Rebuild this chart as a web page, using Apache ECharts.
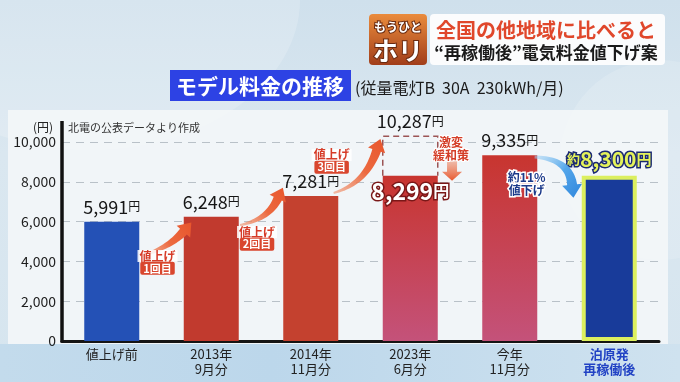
<!DOCTYPE html>
<html><head><meta charset="utf-8">
<script src="https://cdn.jsdelivr.net/npm/echarts@6/dist/echarts.min.js"></script>
<style>
html,body{margin:0;padding:0;width:680px;height:382px;overflow:hidden;}
#bg{position:absolute;left:0;top:0;width:680px;height:382px;background:linear-gradient(180deg,#cfe0ec 0%,#dae7f0 40%,#d6e5ef 100%);}
#c1{position:absolute;left:-120px;top:-150px;width:420px;height:300px;border-radius:50%;background:rgba(255,255,255,0.18);}
#c2{position:absolute;left:560px;top:60px;width:200px;height:200px;border-radius:50%;background:rgba(255,255,255,0.15);}
#panel{position:absolute;left:8px;top:110px;width:660px;height:234px;background:rgba(243,246,248,0.92);}
#band{position:absolute;left:0;top:344px;width:680px;height:38px;background:linear-gradient(90deg,#c3dbec 0%,#bcd7eb 40%,#cfe2ef 100%);}
#chart{position:absolute;left:0;top:0;width:680px;height:382px;}
</style></head>
<body>
<div id="bg"><div id="c1"></div><div id="c2"></div><div id="panel"></div><div id="band"></div></div>
<div id="chart"></div>
<script>
// ---- data ----
const categories = ['値上げ前', '2013年\n9月分', '2014年\n11月分', '2023年\n6月分', '今年\n11月分', '泊原発\n再稼働後'];
const fees = [5991, 6248, 7281, 8299, 9335, 8300];
const feeBeforeRelief = [null, null, null, 10287, null, null];
const yMin = 0, yMax = 10000, yStep = 2000;

const FONT = '"Noto Sans CJK JP", "Noto Sans", sans-serif';
const BAR_W = 55;
const fmt = v => v.toLocaleString('en-US');

const redGrad = {type:'linear',x:0,y:0,x2:0,y2:1,colorStops:[{offset:0,color:'#c8352f'},{offset:1,color:'#c4527a'}]};
const barColors = ['#2451b6', '#c13a2e', '#c4412f', redGrad, redGrad, '#183b9a'];

const mainData = fees.map((v, i) => {
  const item = {value: v, itemStyle: {color: barColors[i]}};
  if (i === 3) {
    item.label = {show:true, position:'insideTop', distance:4,
      formatter: '{n|' + fmt(v) + '}{u|円}',
      rich: {
        n:{fontSize:23,fontWeight:'bold',color:'#fff',textBorderColor:'#7a1818',textBorderWidth:3,fontFamily:FONT},
        u:{fontSize:16,fontWeight:'bold',color:'#fff',textBorderColor:'#7a1818',textBorderWidth:3,fontFamily:FONT}
      }};
  } else if (i === 5) {
    item.itemStyle.borderColor = '#dcef5e';
    item.itemStyle.borderWidth = 4;
    item.label = {show:true, position:'top', distance:6,
      formatter: '{k|約}{n|' + fmt(v) + '}{u|円}',
      rich: {
        k:{fontSize:13,fontWeight:'bold',color:'#e4f25a',textBorderColor:'#1b2a72',textBorderWidth:3,fontFamily:FONT},
        n:{fontSize:21,fontWeight:'bold',color:'#e4f25a',textBorderColor:'#1b2a72',textBorderWidth:3,fontFamily:FONT},
        u:{fontSize:15,fontWeight:'bold',color:'#e4f25a',textBorderColor:'#1b2a72',textBorderWidth:3,fontFamily:FONT}
      }};
  } else {
    item.label = {show:true, position:'top', distance:6,
      formatter: '{n|' + fmt(v) + '}{u|円}',
      rich: {n:{fontSize:18,color:'#161616',fontFamily:FONT}, u:{fontSize:12,color:'#161616',fontFamily:FONT}}};
  }
  return item;
});

const reliefData = feeBeforeRelief.map((v, i) => v == null ? null : {
  value: v - fees[i],
  label: {show:true, position:'top', distance:6,
    formatter: '{n|' + fmt(v) + '}{u|円}',
    rich: {n:{fontSize:18,color:'#161616',fontFamily:FONT}, u:{fontSize:12,color:'#161616',fontFamily:FONT}}}
});

const chart = echarts.init(document.getElementById('chart'), null, {renderer:'canvas'});
const option = {
  animation: false,
  backgroundColor: 'transparent',
  textStyle: {fontFamily: FONT},
  grid: {left: 62, right: 21, top: 142, bottom: 41, containLabel: false},
  xAxis: {
    type: 'category', data: categories,
    axisLine: {show: true, lineStyle: {color: '#151515', width: 3}},
    axisTick: {show: false},
    axisLabel: {fontSize: 13, color: '#222', lineHeight: 15, margin: 6, fontFamily: FONT,
      formatter: (v, i) => i === 5 ? '{b|' + v.replace('\n', '}\n{b|') + '}' : v,
      rich: {b: {fontSize: 13, color: '#2142c4', fontWeight: 'bold', lineHeight: 15, fontFamily: FONT}}}
  },
  yAxis: {
    type: 'value', min: yMin, max: yMax, interval: yStep,
    axisLine: {show: false}, axisTick: {show: false},
    axisLabel: {fontSize: 14, color: '#1e1e1e', margin: 6, formatter: v => fmt(v), fontFamily: FONT},
    splitLine: {show: true, lineStyle: {color: '#b9c1c8', width: 1, type: [8, 6]}}
  },
  series: [
    {type: 'bar', stack: 'a', barWidth: BAR_W, data: mainData, z: 3},
    {type: 'bar', stack: 'a', barWidth: BAR_W, clip: false, data: reliefData, z: 2,
      itemStyle: {color: 'rgba(0,0,0,0)'}}
  ]
};
chart.setOption(option);

// ---- annotations anchored to data coordinates ----
const x0 = chart.convertToPixel({xAxisIndex: 0}, 0);
const x1 = chart.convertToPixel({xAxisIndex: 0}, 1);
const P = (i, v) => [x0 + i * (x1 - x0), chart.convertToPixel({yAxisIndex: 0}, v)];

function curveArrow(p0, c, tip, w0, w1, headW, headL, fill) {
  const dx = tip[0] - c[0], dy = tip[1] - c[1];
  const len = Math.hypot(dx, dy), ux = dx / len, uy = dy / len;
  const b = [tip[0] - ux * headL, tip[1] - uy * headL];
  const L = [], R = [];
  const N = 24;
  for (let k = 0; k <= N; k++) {
    const t = k / N, mt = 1 - t;
    const x = mt*mt*p0[0] + 2*mt*t*c[0] + t*t*b[0];
    const y = mt*mt*p0[1] + 2*mt*t*c[1] + t*t*b[1];
    let tx = 2*mt*(c[0]-p0[0]) + 2*t*(b[0]-c[0]);
    let ty = 2*mt*(c[1]-p0[1]) + 2*t*(b[1]-c[1]);
    const tl = Math.hypot(tx, ty) || 1; tx /= tl; ty /= tl;
    const w = (w0 + (w1 - w0) * t) / 2;
    L.push([x - ty * w, y + tx * w]);
    R.push([x + ty * w, y - tx * w]);
  }
  const hl = [b[0] - uy * headW / 2, b[1] + ux * headW / 2];
  const hr = [b[0] + uy * headW / 2, b[1] - ux * headW / 2];
  const pts = L.concat([hl, tip, hr]).concat(R.reverse());
  return {type: 'polygon', shape: {points: pts}, style: {fill: fill}, z: 10};
}
const orangeGrad = (x, y, x2, y2) => ({type:'linear',x:x,y:y,x2:x2,y2:y2,colorStops:[{offset:0,color:'rgba(240,140,100,0.55)'},{offset:0.5,color:'#ec6a40'},{offset:1,color:'#e8552c'}]});
const blueGrad = {type:'linear',x:0,y:0,x2:1,y2:1,colorStops:[{offset:0,color:'rgba(160,210,245,0.5)'},{offset:0.5,color:'#54a6ea'},{offset:1,color:'#2f86dc'}]};

function txt(pos, text, size, fill, extra) {
  return {type: 'text', z: 12, style: Object.assign({
    text: text, x: pos[0], y: pos[1], fill: fill,
    font: 'bold ' + size + 'px ' + FONT, textAlign: 'center', textVerticalAlign: 'middle'
  }, extra || {})};
}
function raiseLabel(i, v1, v2, n) {
  return [
    txt(P(i, v1), '値上げ', 12, '#d63c28', {backgroundColor: 'rgba(255,255,255,0.85)', padding: [0, 2]}),
    txt(P(i, v2), n + '回目', 11, '#fff', {backgroundColor: '#d9462e', padding: [1, 3], borderRadius: 2})
  ];
}

const elements = [
  // header
  {type:'rect', shape:{x:369,y:14,width:58,height:51,r:4}, style:{fill:{type:'linear',x:0,y:0,x2:0,y2:1,colorStops:[{offset:0,color:'#ea8b3c'},{offset:1,color:'#a13e1a'}]}}, z: 5},
  txt([398, 27], 'もうひと', 12, '#fff', {stroke: '#6a2a10', lineWidth: 2}),
  txt([398, 50], 'ホリ', 25, '#fff', {stroke: '#6a2a10', lineWidth: 2}),
  {type:'rect', shape:{x:430,y:14,width:235,height:51,r:4}, style:{fill:'#fbfcfd'}, z: 5},
  txt([546, 30], '全国の他地域に比べると', 20, '#e0472b'),
  txt([546, 53], '“再稼働後”電気料金値下げ案', 17, '#1a1a1a'),
  // title
  {type:'rect', shape:{x:170,y:70,width:181,height:31}, style:{fill:'#2d42e4'}, z: 5},
  txt([260, 86], 'モデル料金の推移', 21, '#fff'),
  {type:'text', z: 12, style:{text:'(従量電灯B  30A  230kWh/月)', x:355, y:88, fill:'#1a1a1a', font:'16px ' + FONT, textAlign:'left', textVerticalAlign:'middle'}},
  // axis extras
  {type:'text', z: 12, style:{text:'(円)', x:43, y:127, fill:'#222', font:'12px ' + FONT, textAlign:'center', textVerticalAlign:'middle'}},
  {type:'text', z: 12, style:{text:'北電の公表データより作成', x:68, y:128, fill:'#333', font:'11px ' + FONT, textAlign:'left', textVerticalAlign:'middle'}}
];
// y axis line extended above 10,000
const ax = x0 - (x1 - x0) / 2;
elements.push({type:'line', shape:{x1: ax, y1: 121, x2: ax, y2: P(0, 0)[1] + 1.5}, style:{stroke:'#111', lineWidth:3.5}, z: 8});

// dashed outline of the pre-relief price (open at the bottom)
feeBeforeRelief.forEach((v, i) => {
  if (v == null) return;
  const top = P(i, v), bot = P(i, fees[i]);
  const l = top[0] - BAR_W / 2, r = top[0] + BAR_W / 2;
  elements.push({type:'polyline', z: 9, shape:{points:[[l, bot[1]], [l, top[1]], [r, top[1]], [r, bot[1]]]},
    style:{stroke:'#9c5555', lineWidth:1.5, lineDash:[6, 4], fill:null}});
});

// arrows
elements.push(curveArrow(P(0.31, 4300), P(0.58, 4700), P(0.80, 5950), 2, 9, 18, 12, orangeGrad(0, 1, 1, 0)));
elements.push(curveArrow(P(1.29, 5830), P(1.57, 6100), P(1.72, 7700), 2, 9, 18, 12, orangeGrad(0, 1, 1, 0)));
elements.push(curveArrow(P(2.23, 7440), P(2.55, 7900), P(2.70, 10150), 2, 9, 18, 12, orangeGrad(0, 1, 1, 0)));
// down arrow (激変緩和策)
(function(){
  const a = P(3.42, 9150), b = P(3.42, 8050);
  const w = 5, hw = 10, hy = b[1] - 9;
  elements.push({type:'polygon', z: 10, shape:{points:[[a[0]-w,a[1]],[a[0]+w,a[1]],[a[0]+w,hy],[a[0]+hw,hy],[b[0],b[1]],[a[0]-hw,hy],[a[0]-w,hy]]},
    style:{fill:{type:'linear',x:0,y:0,x2:0,y2:1,colorStops:[{offset:0,color:'rgba(236,120,80,0.4)'},{offset:1,color:'#e8582e'}]}}});
})();
elements.push(curveArrow(P(4.25, 9250), P(4.60, 9150), P(4.64, 7200), 3, 10, 20, 13, blueGrad));

// labels
elements.push(...raiseLabel(0.46, 4270, 3650, 1));
elements.push(...raiseLabel(1.46, 5480, 4860, 2));
elements.push(...raiseLabel(2.21, 9350, 8730, 3));
elements.push(txt(P(3.41, 9960), '激変', 12, '#d43e28', {stroke:'#fff', lineWidth:2}));
elements.push(txt(P(3.41, 9300), '緩和策', 12, '#d43e28', {stroke:'#fff', lineWidth:2}));
elements.push(txt(P(4.17, 8200), '約11%', 12, '#1c3a8a', {stroke:'#fff', lineWidth:3}));
elements.push(txt(P(4.17, 7580), '値下げ', 12, '#1c3a8a', {stroke:'#fff', lineWidth:3}));

chart.setOption({graphic: {elements: elements}});
</script>
</body></html>
